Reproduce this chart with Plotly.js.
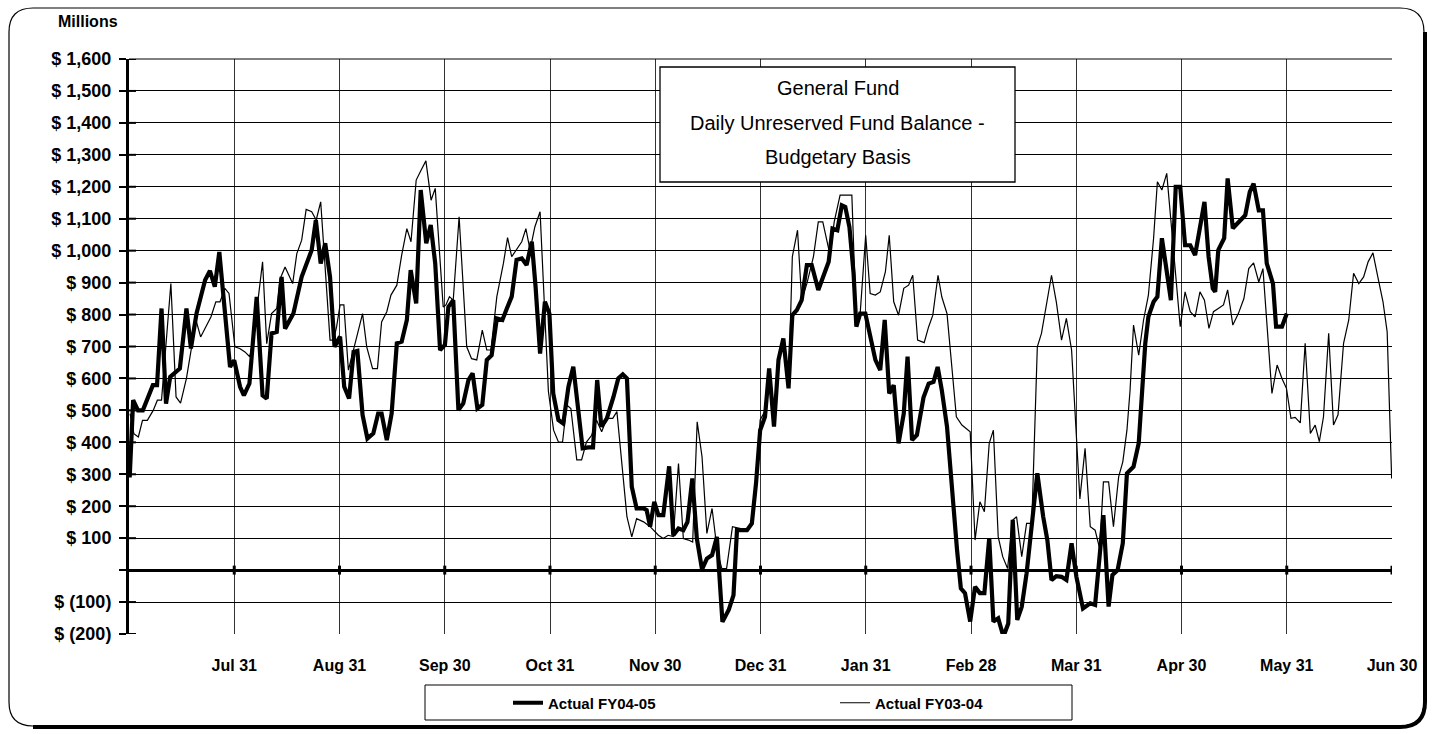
<!DOCTYPE html>
<html><head><meta charset="utf-8">
<script src="https://cdn.plot.ly/plotly-3.0.1.min.js"></script>
<style>html,body{margin:0;padding:0;background:#fff;} #chart{width:1435px;height:734px;}</style>
</head><body><div id="chart"></div>
<script>
// ---------- data ----------
const monthLabels = ['Jul 31','Aug 31','Sep 30','Oct 31','Nov 30','Dec 31','Jan 31','Feb 28','Mar 31','Apr 30','May 31','Jun 30'];
const yTickValues = [-200,-100,0,100,200,300,400,500,600,700,800,900,1000,1100,1200,1300,1400,1500,1600];
const yTickLabels = ['$ (200)','$ (100)','','$ 100','$ 200','$ 300','$ 400','$ 500','$ 600','$ 700','$ 800','$ 900','$ 1,000','$ 1,100','$ 1,200','$ 1,300','$ 1,400','$ 1,500','$ 1,600'];
const seriesNames = ['Actual FY04-05','Actual FY03-04'];
const titleLines = ['General Fund','Daily Unreserved Fund Balance -','Budgetary Basis'];
const unitLabel = 'Millions';

// day of fiscal year (0 = Jun 30) and balance in $ millions
const fy0405Day = [0.2,1.2,2.6,4.0,6.9,8.1,9.4,10.7,11.9,13.1,14.7,16.6,17.9,19.5,22.0,23.4,24.8,26.1,29.2,30.4,32.1,33.2,34.8,36.9,38.6,39.8,41.2,42.7,44.1,45.1,47.5,49.9,52.8,54.0,55.4,56.7,58.1,59.4,61.0,62.2,63.6,64.9,66.0,67.5,68.9,70.6,72.0,73.0,74.5,75.9,77.4,78.8,80.3,81.4,83.0,84.3,85.9,87.2,88.5,89.9,91.3,92.3,93.7,95.2,96.6,98.1,99.3,100.7,102.1,103.4,104.8,106.3,107.9,109.2,110.6,112.0,113.5,114.9,116.4,117.5,118.8,120.2,121.5,122.6,124.1,125.5,127.0,128.4,129.5,131.1,132.7,134.1,135.3,136.5,137.5,138.1,140.0,141.4,142.7,143.9,145.3,146.7,148.7,149.6,150.6,151.8,153.0,154.4,156.1,157.3,158.8,160.2,161.4,162.8,164.1,165.6,167.0,168.5,169.9,171.5,173.3,174.7,175.7,176.8,178.6,180.0,181.2,182.4,183.8,185.0,186.4,187.7,189.1,190.6,191.7,193.0,194.4,195.9,197.3,199.2,200.7,202.2,203.3,204.7,206.0,207.0,208.2,209.4,210.2,211.3,212.8,214.2,215.7,217.1,218.4,219.7,221.0,222.4,223.9,225.0,226.3,227.7,229.6,231.1,232.5,233.7,234.9,236.4,237.8,239.3,240.4,241.6,243.1,244.5,245.9,247.2,248.6,249.8,251.2,252.7,254.1,255.4,256.7,258.0,259.4,260.9,262.5,264.2,265.4,266.6,268.0,269.5,270.9,272.4,273.8,275.7,277.8,279.2,281.6,283.1,284.2,285.7,287.2,288.4,290.3,291.8,292.7,293.7,294.6,296.1,297.2,298.5,299.7,301.1,302.5,303.8,305.2,306.7,308.1,309.5,310.8,312.0,313.2,313.9,314.8,316.5,317.5,319.0,320.6,322.6,323.9,325.0,326.5,327.7,328.8,330.6,331.5,333.2,334.6];
const fy0405Balance = [290,532,500,500,579,579,819,521,605,615,631,819,694,803,908,937,887,996,636,657,574,547,584,855,547,537,741,746,918,756,803,918,1002,1096,960,1023,918,699,731,574,537,683,686,486,412,428,490,490,407,490,710,715,783,939,835,1190,1023,1080,960,689,705,824,845,501,522,595,616,506,517,658,673,788,783,819,856,971,976,955,1028,887,678,840,803,553,470,459,574,637,522,381,384,384,595,449,465,475,542,600,613,600,261,193,193,188,136,214,172,172,325,109,130,125,151,287,99,2,36,47,104,-162,-125,-78,125,125,125,146,271,438,480,631,449,658,725,569,798,814,845,955,955,877,918,965,1069,1064,1142,1137,1074,929,762,803,803,725,658,626,783,553,579,397,490,668,407,423,540,584,589,636,563,449,250,63,-57,-72,-161,-52,-72,-72,100,-161,-151,-208,-167,157,-156,-115,-10,136,303,167,94,-31,-19,-21,-31,84,-21,-120,-104,-109,172,-114,-15,0,84,303,324,397,543,710,793,840,856,1039,950,845,1200,1200,1017,1017,986,1064,1153,981,882,871,1002,1039,1226,1070,1090,1111,1184,1210,1126,1126,960,897,762,762,803];

const fy0304Day = [0.3,1.4,2.7,3.9,5.3,7.0,8.2,9.4,12.1,13.6,14.9,16.6,18.1,19.1,20.7,22.2,23.7,25.1,26.3,27.7,28.9,30.6,32.0,33.5,34.9,35.9,37.4,38.6,39.8,41.2,42.7,43.6,45.1,47.3,48.5,49.9,51.2,52.8,54.1,55.4,58.1,59.1,60.0,61.0,62.1,63.4,67.5,68.7,70.4,71.8,73.0,74.5,75.7,77.4,78.8,80.3,81.5,83.0,84.4,85.8,87.3,88.5,90.8,91.6,92.6,93.7,95.4,97.6,99.0,100.5,102.1,103.4,104.6,106.3,108.2,109.4,110.6,112.0,113.5,114.7,115.9,117.3,118.8,121.2,122.7,124.1,125.3,126.5,127.7,129.4,130.8,132.2,133.7,135.1,136.6,138.1,139.8,141.0,143.9,145.3,146.7,148.7,150.6,153.0,154.4,155.8,157.3,158.8,160.2,161.7,162.9,164.2,165.6,167.0,168.5,170.0,171.3,172.7,174.4,176.8,178.6,180.0,181.2,182.4,183.8,185.0,186.4,187.7,189.1,190.6,191.7,193.2,194.4,195.9,197.8,199.2,200.5,202.6,203.8,205.5,207.5,208.9,210.2,211.3,212.9,214.2,215.7,217.1,218.6,219.7,221.0,222.4,223.9,225.3,226.5,227.9,229.8,231.1,232.3,233.8,234.9,236.4,237.8,239.1,240.7,243.1,244.5,245.9,247.2,248.6,249.8,251.2,252.5,253.9,255.4,256.5,258.0,259.4,260.9,262.5,263.7,265.1,266.6,268.0,269.5,270.9,272.4,274.8,276.3,277.8,279.2,280.5,281.6,283.1,284.5,286.0,287.2,288.4,289.3,290.3,291.8,293.2,294.6,296.1,297.2,298.5,299.9,303.8,305.2,306.7,308.1,309.5,310.8,312.1,313.4,314.8,316.3,317.5,319.0,320.6,322.2,323.6,325.0,326.5,327.7,330.3,331.8,333.2,334.5,335.8,337.0,338.5,339.9,341.4,342.8,344.0,345.2,346.7,348.1,349.4,351.0,352.5,353.9,355.4,356.8,358.1,359.5,360.9,362.4,363.6,364.9];
const fy0304Balance = [490,427,417,469,469,500,532,532,897,542,523,600,699,793,730,762,793,840,840,882,866,699,694,683,668,720,861,965,709,803,819,910,949,897,991,1033,1129,1122,1096,1153,720,720,762,830,830,626,803,699,631,631,777,809,861,892,986,1069,1028,1221,1252,1281,1158,1195,824,830,856,845,1106,699,662,658,751,689,689,856,960,1041,981,1002,1028,1069,1002,1075,1122,560,438,401,401,517,506,345,345,401,422,470,433,475,475,496,167,104,161,151,136,109,99,109,105,334,99,94,88,464,355,115,193,60,5,5,136,130,130,146,280,470,498,620,460,650,720,572,981,1064,845,897,981,1090,1090,986,1090,1174,1174,1174,770,803,1048,866,861,871,934,1048,840,798,882,892,923,720,712,762,798,923,855,803,636,480,454,433,94,214,183,397,438,104,42,5,157,167,42,146,146,699,741,834,923,839,720,788,689,223,381,136,125,68,276,276,136,292,339,438,563,767,673,783,861,1039,1216,1190,1242,762,871,809,793,871,845,757,809,819,830,877,767,803,850,944,962,902,944,553,642,600,569,475,478,461,710,428,454,402,480,741,454,486,710,783,929,897,918,965,993,918,840,746,287];

// ---------- layout helpers ----------
const W = 1435, H = 734;
const M = {l: 129, r: 43, t: 59, b: 100};
const PW = W - M.l - M.r, PH = H - M.t - M.b;
const px = x => (x - M.l) / PW;          // pixel -> paper x
const py = y => (H - M.b - y) / PH;      // pixel -> paper y
const P = (x, y) => px(x) + ',' + py(y);

const DAYS = 365;
const tickPos = monthLabels.map((_, i) => (i + 1) * DAYS / 12);

const sans = 'Liberation Sans, Arial, sans-serif';

// page border (rounded) and its shadow
const bL = 9, bT = 8, bR = 1424, bB = 726, rad = 24;
const borderPath = `M${P(bL, bT + rad)} Q${P(bL, bT)} ${P(bL + rad, bT)} L${P(bR - rad, bT)} Q${P(bR, bT)} ${P(bR, bT + rad)} L${P(bR, bB - rad)} Q${P(bR, bB)} ${P(bR - rad, bB)} L${P(bL + rad, bB)} Q${P(bL, bB)} ${P(bL, bB - rad)} Z`;
const shadowPath = `M${P(bR + 1, bT + rad)} L${P(bR + 1, bB - rad)} Q${P(bR + 1, bB + 1)} ${P(bR - rad, bB + 1)} L${P(bL + rad, bB + 1)}`;

const shapes = [
  {type: 'path', xref: 'paper', yref: 'paper', path: borderPath, line: {color: '#000', width: 1.2}},
  {type: 'path', xref: 'paper', yref: 'paper', path: shadowPath, line: {color: '#000', width: 4}},
  // title box
  {type: 'rect', xref: 'paper', yref: 'paper', x0: px(660), x1: px(1015), y0: py(182), y1: py(67),
   fillcolor: '#fff', line: {color: '#000', width: 1.3}, layer: 'above'},
  // legend box
  {type: 'rect', xref: 'paper', yref: 'paper', x0: px(425), x1: px(1072), y0: py(720), y1: py(685),
   fillcolor: 'rgba(0,0,0,0)', line: {color: '#000', width: 1}},
  // top border of plot
  {type: 'line', xref: 'paper', yref: 'paper', x0: 0, x1: 1, y0: 1, y1: 1, line: {color: '#000', width: 1}}
];
// tick marks crossing the zero line at each month boundary
tickPos.forEach(t => shapes.push({type: 'line', xref: 'x', yref: 'y', x0: t, x1: t, y0: -14, y1: 14,
  line: {color: '#000', width: 3}}));
// inner half of the y-axis tick marks (they cross the axis)
yTickValues.forEach(v => shapes.push({type: 'line', xref: 'paper', yref: 'y', x0: 0, x1: 7 / PW, y0: v, y1: v,
  line: {color: '#000', width: 2}}));

const annotations = titleLines.map((txt, i) => ({
  xref: 'paper', yref: 'paper', x: px(837.5), y: py(88 + i * 34.5), xanchor: 'center', yanchor: 'middle',
  text: txt, showarrow: false, font: {family: sans, size: 20, color: '#000'}
}));
annotations.push({xref: 'paper', yref: 'paper', x: px(88), y: py(22), xanchor: 'center', yanchor: 'middle',
  text: '<b>' + unitLabel + '</b>', showarrow: false, font: {family: sans, size: 16, color: '#000'}});

const traces = [
  {x: fy0405Day, y: fy0405Balance, name: seriesNames[0], type: 'scatter', mode: 'lines',
   line: {color: '#000', width: 4.2}},
  {x: fy0304Day, y: fy0304Balance, name: seriesNames[1], type: 'scatter', mode: 'lines',
   line: {color: '#000', width: 1.2}}
];

const layout = {
  width: W, height: H,
  margin: M,
  paper_bgcolor: '#fff', plot_bgcolor: '#fff',
  showlegend: true,
  legend: {orientation: 'h', x: px(508), y: py(703), xanchor: 'left', yanchor: 'middle',
    bgcolor: 'rgba(0,0,0,0)', borderwidth: 0, entrywidth: 282, entrywidthmode: 'pixels',
    font: {family: sans, size: 15, color: '#000', weight: 'bold'}},
  xaxis: {range: [0, DAYS], tickvals: tickPos, ticktext: monthLabels, tickmode: 'array',
    showgrid: true, gridcolor: '#333', gridwidth: 1, zeroline: false, showline: false,
    ticks: '', ticklabelstandoff: 20,
    tickfont: {family: sans, size: 16, color: '#000', weight: 'bold'}, fixedrange: true},
  yaxis: {range: [-200, 1600], tickvals: yTickValues, ticktext: yTickLabels, tickmode: 'array',
    showgrid: true, gridcolor: '#000', gridwidth: 1,
    zeroline: true, zerolinecolor: '#000', zerolinewidth: 3,
    showline: true, linecolor: '#000', linewidth: 3,
    ticks: 'outside', ticklen: 7, tickwidth: 2, tickcolor: '#000', ticklabelstandoff: 4,
    tickfont: {family: sans, size: 18, color: '#000', weight: 'bold'}, fixedrange: true},
  shapes: shapes,
  annotations: annotations
};

Plotly.newPlot('chart', traces, layout, {displayModeBar: false, staticPlot: true});
</script></body></html>
